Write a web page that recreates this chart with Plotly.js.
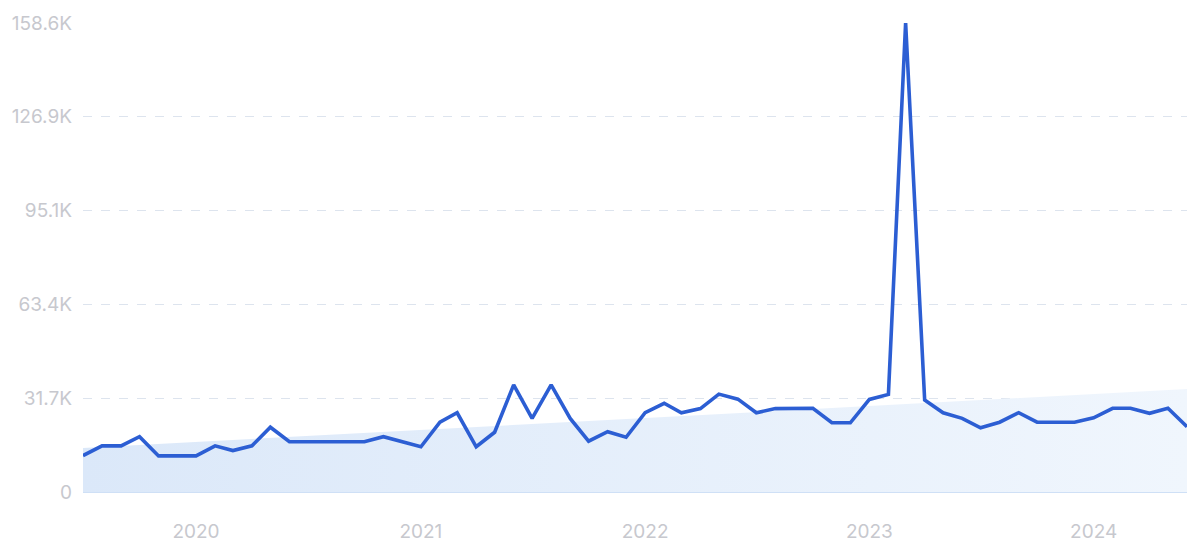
<!DOCTYPE html>
<html>
<head>
<meta charset="utf-8">
<script src="https://cdn.plot.ly/plotly-3.0.1.min.js"></script>
<style>html,body{margin:0;padding:0;background:#fff;}#chart{width:1200px;height:559px;}</style>
</head>
<body>
<div id="chart"></div>
<script>
// Monthly search volume, Jul 2019 – Jun 2024
const months = [
  "2019-07-01","2019-08-01","2019-09-01","2019-10-01","2019-11-01","2019-12-01",
  "2020-01-01","2020-02-01","2020-03-01","2020-04-01","2020-05-01","2020-06-01",
  "2020-07-01","2020-08-01","2020-09-01","2020-10-01","2020-11-01","2020-12-01",
  "2021-01-01","2021-02-01","2021-03-01","2021-04-01","2021-05-01","2021-06-01",
  "2021-07-01","2021-08-01","2021-09-01","2021-10-01","2021-11-01","2021-12-01",
  "2022-01-01","2022-02-01","2022-03-01","2022-04-01","2022-05-01","2022-06-01",
  "2022-07-01","2022-08-01","2022-09-01","2022-10-01","2022-11-01","2022-12-01",
  "2023-01-01","2023-02-01","2023-03-01","2023-04-01","2023-05-01","2023-06-01",
  "2023-07-01","2023-08-01","2023-09-01","2023-10-01","2023-11-01","2023-12-01",
  "2024-01-01","2024-02-01","2024-03-01","2024-04-01","2024-05-01","2024-06-01"
];
const volume = [
  12300, 15600, 15600, 18700, 12200, 12200,
  12200, 15600, 14000, 15600, 21900, 17000,
  17000, 17000, 17000, 17000, 18700, 17000,
  15300, 23600, 26800, 15300, 20200, 36200,
  24900, 36200, 24900, 17200, 20400, 18500,
  26800, 30000, 26800, 28200, 33100, 31400,
  26800, 28200, 28200, 28300, 23400, 23400,
  31300, 33000, 158600, 31100, 26800, 24900,
  21700, 23600, 26800, 23600, 23600, 23600,
  25100, 28300, 28300, 26600, 28300, 22100
];
// Trend line end points (first and last month)
const trendDates = ["2019-07-01", "2024-06-01"];
const trendValues = [14900, 34800];
// Y-axis ticks
const yTickVals = [0, 31720, 63440, 95160, 126880, 158600];
const yTickText = ["0", "31.7K", "63.4K", "95.1K", "126.9K", "158.6K"];
// X-axis ticks
const xTickVals = ["2020-01-01", "2021-01-01", "2022-01-01", "2023-01-01", "2024-01-01"];
const xTickText = ["2020", "2021", "2022", "2023", "2024"];

const traces = [
  {
    x: trendDates, y: trendValues, type: "scatter", mode: "lines",
    line: {width: 0, color: "rgba(0,0,0,0)"},
    fill: "tozeroy",
    fillcolor: "rgba(222,234,250,0.9)",
    fillgradient: {type: "horizontal", colorscale: [[0, "rgba(219,232,249,1)"], [1, "rgba(240,246,253,1)"]]},
    hoverinfo: "skip", showlegend: false
  },
  {
    x: months, y: volume, type: "scatter", mode: "lines",
    line: {color: "#2c5ed3", width: 3.6},
    showlegend: false
  }
];

const tickFont = {family: "Inter, 'Open Sans', sans-serif", size: 19, color: "#c7c8ce"};

const layout = {
  width: 1200, height: 559,
  margin: {l: 83, r: 13, t: 23, b: 67},
  paper_bgcolor: "#ffffff", plot_bgcolor: "#ffffff",
  showlegend: false,
  xaxis: {
    type: "date",
    range: ["2019-07-01", "2024-06-01"],
    tickvals: xTickVals, ticktext: xTickText,
    showgrid: false, zeroline: false,
    showline: false,
    ticks: "", ticklabelstandoff: 26,
    tickfont: tickFont
  },
  yaxis: {
    range: [0, 158600],
    tickvals: yTickVals, ticktext: yTickText,
    showgrid: true, gridcolor: "#dde4ee", griddash: "dash", gridwidth: 1,
    zeroline: true, zerolinecolor: "#cfe0f6", zerolinewidth: 1.5,
    showline: false, ticks: "", ticklabelstandoff: 10,
    tickfont: tickFont
  }
};

Plotly.newPlot("chart", traces, layout, {displayModeBar: false, staticPlot: true});
</script>
</body>
</html>
